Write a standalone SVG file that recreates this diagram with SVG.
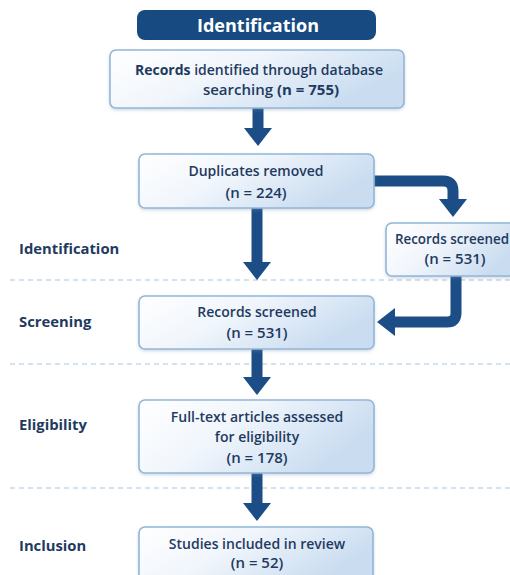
<svg xmlns="http://www.w3.org/2000/svg" width="510" height="575" viewBox="0 0 510 575">
<defs>
<linearGradient id="boxg" x1="0" y1="0" x2="1" y2="0.4">
<stop offset="0" stop-color="#ffffff"/>
<stop offset="0.45" stop-color="#f1f6fc"/>
<stop offset="1" stop-color="#c9dcf0"/>
</linearGradient>
<filter id="sh" x="-10%" y="-10%" width="120%" height="130%">
<feDropShadow dx="0" dy="1.5" stdDeviation="1.5" flood-color="#7a93b0" flood-opacity="0.35"/>
</filter>
<marker id="ah" markerUnits="userSpaceOnUse" markerWidth="18" markerHeight="28" viewBox="0 0 18 28" refX="0" refY="14" orient="auto">
<path d="M0,0 L18,14 L0,28 Z" fill="#1c4d86"/>
</marker>
</defs>
<style>
.box{fill:url(#boxg);stroke:#93b6d8;stroke-width:1.6;filter:url(#sh)}
.t{font-family:"Open Sans","Liberation Sans",sans-serif;font-size:14px;font-weight:600;fill:#1f3a5f;text-anchor:middle}
.n{font-size:15px}
.b{font-weight:700}
.lab{font-family:"Open Sans","Liberation Sans",sans-serif;font-size:14.8px;font-weight:700;fill:#1f3a5f}
.dash{stroke:#a9c3de;stroke-width:1.2;stroke-dasharray:5 4;fill:none}
.con{stroke:#1c4d86;stroke-width:11;fill:none;stroke-linejoin:round;marker-end:url(#ah)}
</style>
<rect width="510" height="575" fill="#ffffff"/>
<g id="dividers">
<line class="dash" x1="10" y1="280" x2="510" y2="280"/>
<line class="dash" x1="10" y1="364" x2="510" y2="364"/>
<line class="dash" x1="10" y1="488" x2="510" y2="488"/>
</g>
<g id="stage-labels">
<text class="lab" x="19" y="254">Identification</text>
<text class="lab" x="19" y="327">Screening</text>
<text class="lab" x="19" y="430">Eligibility</text>
<text class="lab" x="19" y="551">Inclusion</text>
</g>
<g id="header">
<rect x="137" y="10" width="239" height="30" rx="8" fill="#164a80"/>
<text x="258" y="31.5" font-family="'Open Sans','Liberation Sans',sans-serif" font-size="18" font-weight="700" fill="#ffffff" text-anchor="middle">Identification</text>
</g>
<g id="connectors">
<line class="con" x1="258" y1="108" x2="258" y2="128"/>
<line class="con" x1="257" y1="208" x2="257" y2="262"/>
<path class="con" d="M374,181 H443 Q453,181 453,191 V199"/>
<path class="con" d="M456,276 V313 Q456,322 447,322 H395"/>
<line class="con" x1="257" y1="349" x2="257" y2="377"/>
<line class="con" x1="257" y1="473" x2="257" y2="503"/>
</g>
<g id="n-records">
<rect class="box" x="110" y="50" width="294" height="58" rx="6"/>
<text class="t" x="259" y="75"><tspan class="b">Records</tspan> identified through database</text>
<text class="t n" x="271" y="95">searching <tspan class="b">(n = 755)</tspan></text>
</g>
<g id="n-duplicates">
<rect class="box" x="139" y="154" width="235" height="54" rx="6"/>
<text class="t" x="256" y="176">Duplicates removed</text>
<text class="t n" x="256" y="198">(n = 224)</text>
</g>
<g id="n-screened-side">
<rect class="box" x="386" y="223" width="134" height="53" rx="6"/>
<text class="t" x="452" y="244" style="font-size:13.4px">Records screened</text>
<text class="t n" x="455" y="264">(n = 531)</text>
</g>
<g id="n-screened">
<rect class="box" x="139" y="296" width="235" height="53" rx="6"/>
<text class="t" x="257" y="317">Records screened</text>
<text class="t n" x="257" y="338">(n = 531)</text>
</g>
<g id="n-fulltext">
<rect class="box" x="139" y="400" width="235" height="73" rx="6"/>
<text class="t" x="257" y="422">Full-text articles assessed</text>
<text class="t" x="257" y="442">for eligibility</text>
<text class="t n" x="257" y="463">(n = 178)</text>
</g>
<g id="n-included">
<rect class="box" x="139" y="527" width="234" height="56" rx="6"/>
<text class="t" x="257" y="549">Studies included in review</text>
<text class="t n" x="257" y="568">(n = 52)</text>
</g>
</svg>
